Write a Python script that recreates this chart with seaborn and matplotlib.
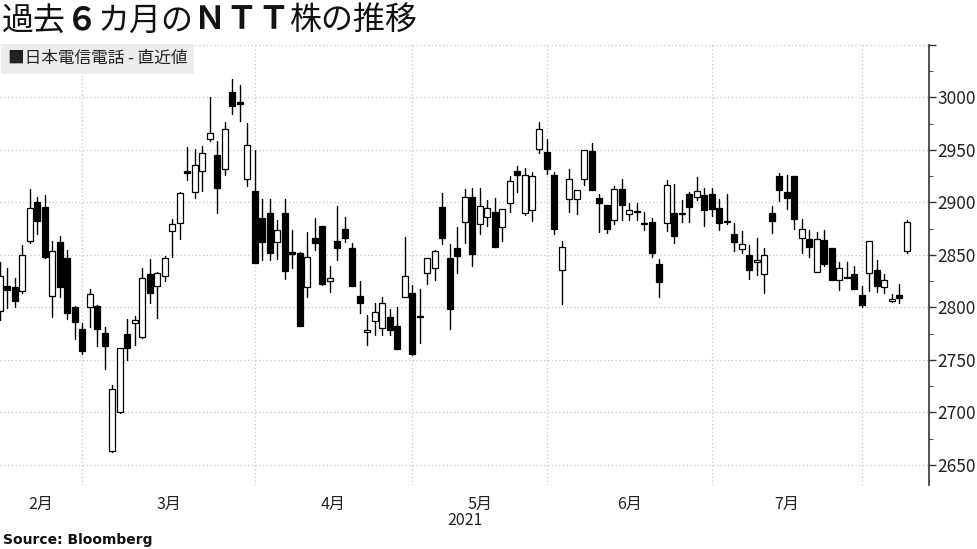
import numpy as np
import pandas as pd
import matplotlib
matplotlib.use("Agg")
import matplotlib.pyplot as plt
import seaborn as sns

sns.set_theme(style="white")
plt.rcParams["font.family"] = ["Noto Sans CJK JP", "DejaVu Sans"]

# daily candles, NTT (trading days from mid-Feb to early Aug 2021)
opens = [2797, 2820, 2819, 2816, 2863, 2900, 2896, 2811, 2862, 2847,
         2800, 2779, 2800, 2801, 2776, 2663, 2700, 2775, 2785, 2772,
         2832, 2820, 2830, 2873, 2880, 2930, 2910, 2930, 2960, 2945,
         2932, 3005, 2996, 2922, 2911, 2885, 2890, 2862, 2890, 2853,
         2852, 2819, 2866, 2878, 2825, 2863, 2875, 2857, 2811, 2777,
         2787, 2780, 2791, 2782, 2810, 2814, 2792, 2833, 2838, 2896,
         2847, 2857, 2881, 2905, 2879, 2886, 2891, 2877, 2899, 2930,
         2890, 2893, 2951, 2948, 2926, 2836, 2903, 2903, 2922, 2949,
         2904, 2898, 2883, 2913, 2889, 2892, 2880, 2881, 2841, 2880,
         2890, 2889, 2908, 2905, 2907, 2908, 2895, 2882, 2870, 2856,
         2850, 2843, 2832, 2890, 2925, 2910, 2925, 2866, 2865, 2834,
         2864, 2857, 2826, 2829, 2832, 2812, 2833, 2836, 2819, 2806,
         2812, 2854]
highs = [2843, 2838, 2828, 2859, 2913, 2905, 2907, 2863, 2868, 2855,
         2801, 2785, 2818, 2802, 2781, 2726, 2761, 2789, 2792, 2838,
         2846, 2834, 2849, 2884, 2910, 2953, 2951, 2954, 3000, 2959,
         2977, 3018, 3012, 2976, 2950, 2903, 2903, 2883, 2903, 2874,
         2853, 2872, 2885, 2878, 2839, 2897, 2886, 2861, 2825, 2793,
         2804, 2810, 2798, 2800, 2867, 2821, 2818, 2847, 2855, 2909,
         2860, 2877, 2913, 2914, 2914, 2902, 2904, 2894, 2925, 2935,
         2933, 2929, 2977, 2960, 2929, 2863, 2932, 2912, 2950, 2957,
         2908, 2898, 2916, 2922, 2899, 2899, 2891, 2885, 2846, 2921,
         2918, 2902, 2910, 2924, 2914, 2914, 2903, 2908, 2880, 2873,
         2859, 2866, 2857, 2897, 2928, 2926, 2925, 2884, 2874, 2872,
         2874, 2857, 2843, 2843, 2839, 2820, 2863, 2845, 2832, 2813,
         2822, 2883]
lows = [2788, 2799, 2800, 2814, 2861, 2870, 2847, 2791, 2810, 2789,
        2770, 2756, 2781, 2763, 2741, 2662, 2699, 2750, 2764, 2771,
        2804, 2790, 2825, 2848, 2865, 2921, 2904, 2911, 2959, 2890,
        2926, 2984, 2978, 2916, 2842, 2845, 2845, 2846, 2827, 2838,
        2782, 2810, 2855, 2821, 2815, 2845, 2862, 2820, 2795, 2764,
        2774, 2774, 2774, 2760, 2810, 2755, 2766, 2822, 2826, 2860,
        2779, 2833, 2861, 2839, 2870, 2878, 2858, 2863, 2891, 2910,
        2888, 2882, 2947, 2927, 2870, 2803, 2891, 2889, 2917, 2912,
        2872, 2871, 2879, 2883, 2883, 2883, 2874, 2848, 2810, 2873,
        2861, 2881, 2881, 2902, 2878, 2887, 2874, 2879, 2854, 2852,
        2827, 2831, 2814, 2871, 2901, 2894, 2875, 2852, 2848, 2834,
        2839, 2826, 2817, 2828, 2818, 2800, 2816, 2815, 2814, 2805,
        2804, 2852]
closes = [2830, 2817, 2806, 2850, 2895, 2882, 2848, 2854, 2819, 2795,
          2786, 2758, 2813, 2779, 2763, 2722, 2761, 2761, 2788, 2828,
          2814, 2833, 2847, 2879, 2909, 2928, 2936, 2947, 2966, 2914,
          2970, 2992, 2994, 2955, 2842, 2862, 2852, 2874, 2835, 2851,
          2782, 2848, 2861, 2822, 2828, 2857, 2866, 2820, 2804, 2778,
          2796, 2804, 2778, 2760, 2830, 2756, 2791, 2847, 2854, 2866,
          2798, 2849, 2905, 2851, 2897, 2895, 2858, 2894, 2920, 2926,
          2926, 2925, 2970, 2932, 2875, 2858, 2922, 2912, 2950, 2912,
          2899, 2875, 2913, 2898, 2893, 2891, 2879, 2852, 2824, 2917,
          2868, 2890, 2896, 2911, 2893, 2894, 2880, 2881, 2862, 2860,
          2836, 2845, 2850, 2882, 2912, 2904, 2884, 2875, 2858, 2865,
          2841, 2826, 2838, 2828, 2818, 2802, 2863, 2820, 2826, 2808,
          2809, 2881]

# first trading day of each month (candle index) and labels
month_starts = [0, 11, 34, 55, 73, 95, 115]
month_labels = ["2月", "3月", "4月", "5月", "6月", "7月"]

# title pieces; the full-width digit and letters are drawn heavier
title_parts = [("過去", "normal"), ("６", "bold"), ("カ月の", "normal"),
               ("ＮＴＴ", "bold"), ("株の推移", "normal")]

df = pd.DataFrame({"open": opens, "high": highs, "low": lows, "close": closes})
df["day"] = np.arange(len(df))
df["up"] = df["close"] >= df["open"]

wicks = df.melt(id_vars="day", value_vars=["low", "high"], value_name="price")

fig = plt.figure(figsize=(9.77, 5.49), dpi=100)
ax = fig.add_axes([0.0, 0.117, 0.951, 0.801])

sns.lineplot(data=wicks, x="day", y="price", units="day", estimator=None,
             color="black", lw=1, sort=False, ax=ax, zorder=2, legend=False)

body_lo = df[["open", "close"]].min(axis=1)
body_h = (df["close"] - df["open"]).abs().clip(lower=1)
ax.bar(df["day"], body_h, bottom=body_lo, width=0.8,
       color=np.where(df["up"], "white", "black"), edgecolor="black",
       linewidth=0.9, zorder=3)

ax.set_xlim(0, 124)
ax.set_ylim(2631, 3050)

# month gridlines and centred labels
mids = [(a + b) / 2 for a, b in zip(month_starts[:-1], month_starts[1:])]
ax.set_xticks(month_starts[1:], minor=True)
ax.set_xticks(mids)
ax.set_xticklabels(month_labels, fontsize=11.5, color="#222222")
ax.tick_params(axis="x", which="both", length=0, pad=8)

ax.yaxis.tick_right()
ax.set_yticks(np.arange(2650, 3051, 50))
ax.set_yticklabels([str(v) for v in range(2650, 3001, 50)] + [""], fontsize=12.5, color="#222222")
ax.set_yticks(np.arange(2650, 3051, 25), minor=True)
ax.tick_params(axis="y", which="major", direction="out", length=5, width=1, color="#333333", pad=1, right=True)
ax.tick_params(axis="y", which="minor", direction="out", length=3, width=0.8, color="#555555", right=True)

ax.grid(False)
ax.grid(axis="y", which="major", color="#c8c8c8", linestyle=(0, (1, 2)), linewidth=0.9)
ax.grid(axis="x", which="minor", color="#c8c8c8", linestyle=(0, (1, 2)), linewidth=0.9)

for s in ["top", "left", "bottom"]:
    ax.spines[s].set_visible(False)
ax.spines["right"].set_color("#333333")
ax.spines["right"].set_linewidth(1.2)
ax.set_xlabel("")
ax.set_ylabel("")

# title drawn piece by piece
renderer = fig.canvas.get_renderer()
x_px = 2
for txt, wt in title_parts:
    t = fig.text(x_px / 977, 0.992, txt, fontsize=23, fontweight=wt, va="top", ha="left", color="#111111")
    x_px = t.get_window_extent(renderer).x1

fig.text(0.008, 0.893, "■日本電信電話 - 直近値", fontsize=12, va="center", ha="left", color="#222222",
         bbox=dict(boxstyle="square,pad=0.4", facecolor="#ececec", edgecolor="none"))
fig.text(0.476, 0.052, "2021", fontsize=11.5, ha="center", va="center", color="#222222")
fig.text(0.003, 0.017, "Source: Bloomberg", fontsize=10, fontweight="bold", ha="left", va="center",
         family=["DejaVu Sans"], color="#111111")

fig.savefig("out.png", dpi=100)
